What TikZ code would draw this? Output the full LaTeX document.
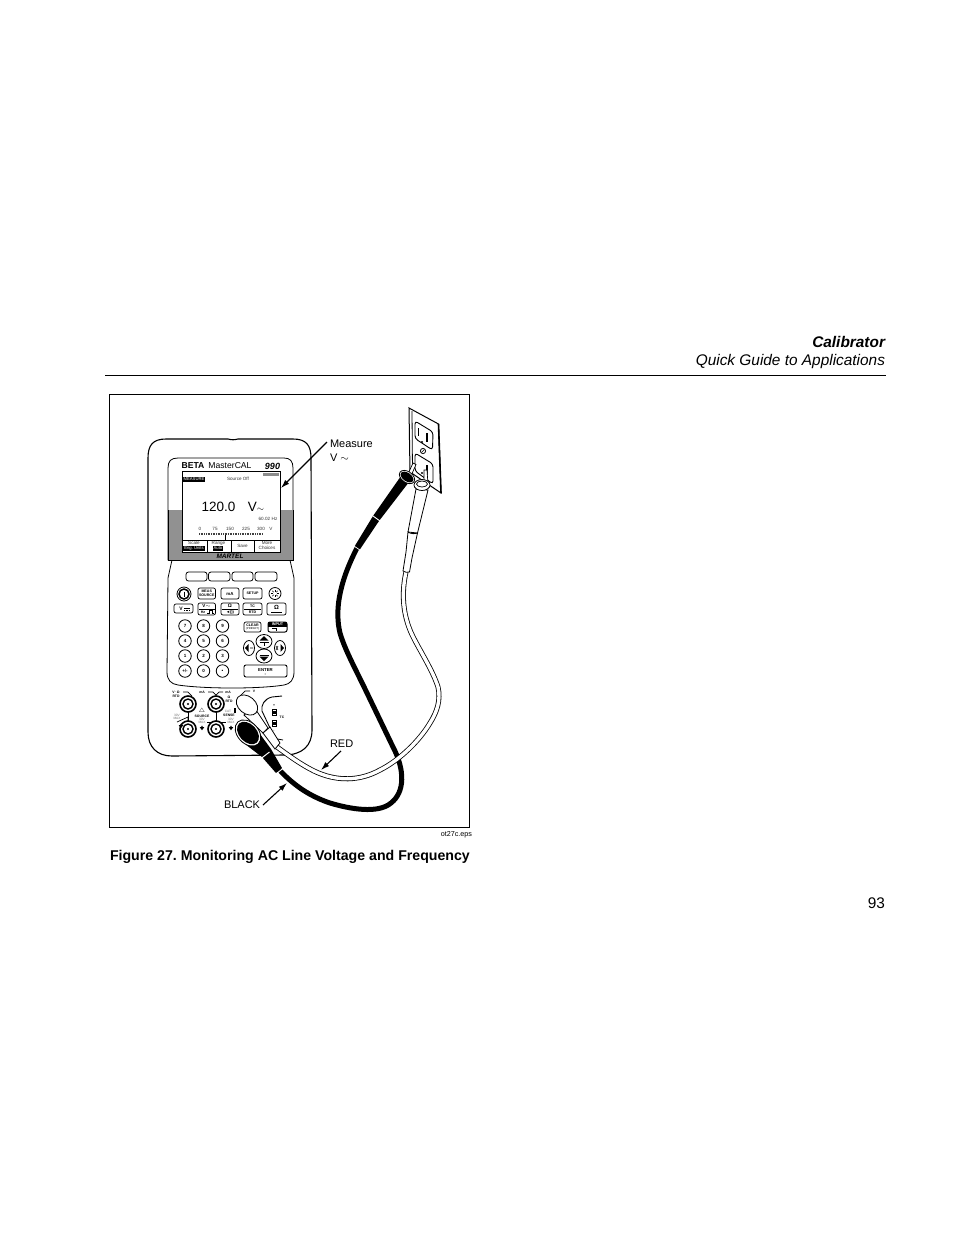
\documentclass[tikz,border=0pt]{standalone}
\usepackage{fontspec}
\setmainfont{Liberation Sans}
\frenchspacing
\newcommand{\fsz}[1]{\fontsize{#1}{#1}\selectfont}
\tikzset{
  every node/.style={inner sep=0pt,outer sep=0pt},
  keybox/.style={draw,line width=0.7pt,rounded corners=2pt,fill=white},
  softkey/.style={draw,line width=0.8pt,rounded corners=2.5pt,fill=white},
  numkey/.style={draw,line width=0.8pt,fill=white,circle,minimum size=12.5pt,font=\fsz{4.5}\bfseries},
  keytxt/.style={font=\fsz{3.6}\bfseries,align=center},
  tiny/.style={font=\fsz{3.4}\bfseries,align=center},
  faint/.style={font=\fsz{3.2},align=center,text=black!55},
  scr/.style={font=\fsz{4.6},align=center,text=black!80},
  callout/.style={font=\fsz{11},anchor=base west},
  ptr/.style={line width=1.1pt,-{Latex[length=8.5pt,width=5.5pt]}},
  jack/.style={draw,line width=1.6pt,fill=white},
  cablek/.style={line width=5pt,line join=round},
  cablew/.style={line width=5pt,line join=round},
  cablei/.style={line width=3.4pt,white,line join=round},
}
\usetikzlibrary{arrows.meta}
\begin{document}
\begin{tikzpicture}[x=1pt,y=-1pt]
\useasboundingbox (0,0) rectangle (954,1235);
% page furniture
\node[font=\fsz{15.4}\bfseries\itshape,anchor=base east] (chap) at (885,347) {Calibrator};
\node[font=\fsz{15.4}\itshape,anchor=base east] (sect) at (885,365) {Quick Guide to Applications};
\coordinate (ruleL) at (105,375.5); \coordinate (ruleR) at (886,375.5);
\draw[line width=0.8pt] (ruleL) -- (ruleR);
\draw[line width=0.8pt] (109.5,394.5) rectangle (469.5,827.5);
\node[font=\fsz{7.2},anchor=base east] (eps) at (472,836) {ot27c.eps};
\node[font=\fsz{14.15}\bfseries,anchor=base west] (cap) at (110,860) {Figure 27. Monitoring AC Line Voltage and Frequency};
\node[font=\fsz{15.4},anchor=base east] (pg) at (885,908) {93};
% device body
\draw[line width=1.1pt,fill=white] (148,458) .. controls (148,445) and (153,439) .. (166,439)
  -- (228,439) .. controls (232,440) and (234,440) .. (238,439) -- (293,439)
  .. controls (306,439) and (311,445) .. (311,458) -- (312,730)
  .. controls (312,746) and (302,755) .. (284,755) -- (172,756)
  .. controls (157,756) and (148,747) .. (148,732) -- cycle;
% bezel
\draw[line width=0.8pt,fill=white] (168,468) .. controls (168,461) and (171,458) .. (178,458)
  -- (284,458) .. controls (290,458) and (293,461) .. (293,468) -- (293,560)
  -- (290,560) -- (294,578) -- (294,672) .. controls (294,680) and (290,684) .. (284,685)
  .. controls (260,689) and (205,689) .. (178,685) .. controls (171,684) and (167,680) .. (167,672)
  -- (168,578) -- (172,560) -- (168,560) -- cycle;
\fill[black!43] (168.4,510) rectangle (292.6,560);
\draw[line width=0.8pt] (168,510) -- (168,560) -- (293,560) -- (293,510);
% title
\node[font=\fsz{8.6}\bfseries] (beta) at (193,466) {BETA};
\node[font=\fsz{8.6}] (mcal) at (230,466) {MasterCAL};
\node[font=\fsz{9}\bfseries\itshape] (n990) at (272.5,466) {990};
% screen
\draw[line width=1pt,fill=white] (182,471) rectangle (280,552);
\fill[black] (183,476.5) rectangle (205,482);
\node[font=\fsz{4.2},text=white] (meas) at (194,479.3) {MEASURE};
\fill[black!45] (263,472.5) rectangle (279,476);
\node[scr] (srcoff) at (238,479.3) {Source Off};
\node[font=\fsz{13.5}] (val) at (218.5,507) {120.0};
\node[font=\fsz{13.5}] (unit) at (256,507) {V$\scriptstyle\sim$};
\node[scr] (hz) at (268,519) {60.02\,\,Hz};
\foreach \t/\x in {0/200,75/215,150/230,225/246,300/261,V/271}{\node[scr] at (\x,529) {\t};}
\draw[line width=1.6pt,dash pattern=on 1pt off 0.7pt,black!75] (199,534) -- (263,534);
\draw[line width=0.7pt] (225,535) -- (225,539.5);
\draw[line width=0.8pt] (182,540) -- (280,540) (207,540) -- (207,552) (231,540) -- (231,552) (254,540) -- (254,552);
\node[scr] (skA) at (194,543) {Scale};
\fill[black] (183,545.5) rectangle (205,551);
\node[font=\fsz{4.2},text=white] (skAb) at (194,548.3) {Eng. Units};
\node[scr] (skB) at (218.5,543) {Range};
\fill[black] (213,545.5) rectangle (223,551);
\node[font=\fsz{4.2},text=white] (skBb) at (218,548.3) {Auto};
\node[scr] (skC) at (242.5,546) {Save};
\node[scr] (skD) at (267,543) {More};
\node[scr] (skDb) at (267,548.3) {Choices};
\node[font=\fsz{6.5}\bfseries\itshape] (logo) at (230,556.3) {MARTEL};
% soft keys
\draw[softkey] (186,572) rectangle (207,581);
\draw[softkey] (208.5,572) rectangle (230,581);
\draw[softkey] (232,572) rectangle (253,581);
\draw[softkey] (255,572) rectangle (277,581);
% key row 1
\draw[line width=0.8pt] (184,594) circle (7);
\draw[line width=1.5pt] (184,594) circle (5);
\draw[line width=0.8pt] (184,591.5) -- (184,596.5);
\draw[keybox] (198,588) rectangle (215.5,599);
\node[keytxt] (kmeas) at (206.7,593.5) {MEAS\\[0.4pt]SOURCE};
\draw[keybox] (221,588) rectangle (239,599);
\node[font=\fsz{4.4}\bfseries] (kma) at (230,593.5) {mA};
\draw[keybox] (243,588) rectangle (262,599);
\node[keytxt] (kset) at (252.5,593.5) {SETUP};
\draw[line width=0.8pt] (275,593.5) circle (6);
\foreach \a in {0,45,...,315}{\draw[line width=0.6pt] ([shift={(\a:1.9pt)}]275,593.5) -- ([shift={(\a:3.8pt)}]275,593.5);}
% key row 2
\draw[keybox] (174,604) rectangle (193,613);
\node[font=\fsz{5}\bfseries] (kv) at (181,608.5) {V};
\draw[line width=0.8pt] (184,608) -- (190,608);
\draw[line width=0.6pt,dash pattern=on 1pt off 0.6pt] (184,610) -- (190,610);
\draw[keybox] (198,603) rectangle (215.5,615);
\draw[line width=0.5pt] (199,609) -- (214.5,609);
\node[font=\fsz{4.5}\bfseries] (kvac) at (206.7,606) {V$\sim$};
\node[font=\fsz{3.6}\bfseries] (khz) at (203,612) {Hz};
\draw[line width=0.7pt] (207,613.5) -- (209,613.5) -- (209,610.5) -- (212,610.5) -- (212,613.5) -- (214,613.5);
\draw[keybox] (221,603) rectangle (239,615);
\draw[line width=0.5pt] (222,609) -- (238,609);
\node[font=\fsz{5}\bfseries] (kohm) at (230,606) {Ω};
\node[font=\fsz{4}\bfseries] (kcont) at (230,612) {◄)))};
\draw[keybox] (243,603) rectangle (262,615);
\draw[line width=0.5pt] (244,609) -- (261,609);
\node[keytxt] (ktc) at (252.5,606) {TC};
\node[keytxt] (krtd) at (252.5,612) {RTD};
\draw[keybox] (267,603) rectangle (286,615);
\node[font=\fsz{6}\bfseries] (kgnd) at (276.5,607.5) {Ω};
\draw[line width=0.7pt] (271,612) -- (282,612);
% numeric keys
\foreach \lab/\x/\y in {7/185/626,8/203.5/626,9/222.5/626,4/185/641,5/203.5/641,6/222.5/641,1/185/656,2/203.5/656,3/222.5/656,{+/-}/185/671,0/203.5/671}{
  \node[numkey] at (\x,\y) {\lab};
}
\node[numkey,font=\fsz{8}\bfseries] (kdot) at (222.5,671) {.};
% clear / input / arrows / enter
\draw[keybox] (244,622) rectangle (261,632);
\node[keytxt] (kclr) at (252.5,625.5) {CLEAR};
\node[font=\fsz{2.8}] (kclr2) at (252.5,629) {(PRESET)};
\draw[keybox,line width=1pt] (268,622) rectangle (287,632);
\fill[black] (268,622) rectangle (287,627);
\node[font=\fsz{3.8}\bfseries,text=white] (kinp) at (277.5,624.6) {INPUT};
\draw[line width=0.7pt] (272,628.5) -- (276,628.5) -- (276,631);
\draw[line width=0.8pt,fill=white] (249,648) ellipse (5.5 and 7.5);
\draw[line width=0.8pt,fill=white] (280,648) ellipse (5.5 and 7.5);
\fill (245,648) -- (248.5,644) -- (248.5,652) -- cycle;
\fill (284,648) -- (280.5,644) -- (280.5,652) -- cycle;
\draw[line width=0.6pt] (250,648) -- (253,648) (276,646) -- (278,650) (278,646) -- (276,650);
\draw[line width=0.8pt,fill=white] (264,641.5) ellipse (8 and 7);
\draw[line width=0.8pt,fill=white] (264,656) ellipse (8 and 7);
\fill (264,636) -- (268.5,640.5) -- (259.5,640.5) -- cycle;
\fill (264,661) -- (268.5,656.5) -- (259.5,656.5) -- cycle;
\draw[line width=0.6pt] (259.5,642) -- (268.5,642) (264,642) -- (264,646) (259.5,655) -- (268.5,655);
\draw[keybox,line width=0.9pt] (244,665) rectangle (287,677);
\node[keytxt,font=\fsz{4.3}\bfseries] (kent) at (265.5,670) {ENTER};
\node[font=\fsz{2.8}] (kent2) at (265.5,675) {=};
% jack wires
\draw[line width=0.7pt] (188,704) -- (188,729);
\draw[line width=0.7pt] (216,704) -- (216,729);
\draw[line width=0.7pt] (177,722) -- (188,717) -- (188,722);
\draw[line width=0.7pt] (207,722) -- (226,722);
\draw[line width=0.7pt] (183,692) -- (188,692) -- (192,696);
\draw[line width=0.7pt] (208,692) -- (213,692) -- (216,695) -- (219,692) -- (223,692);
\draw[line width=0.7pt] (241,695) -- (245,691) -- (250,691);
% jacks
\foreach \x/\y in {188/704,216/704,188/729,216/729}{
  \draw[jack] (\x,\y) circle (8);
  \draw[line width=1.4pt,fill=white] (\x,\y) circle (5);
  \fill[black] (\x,\y) circle (1.2);
}
% jack labels
\node[tiny] (jvo) at (176,694) {V$\cdot$Ω\\[0.3pt]RTD};
\node[tiny] (jma) at (202,692) {mA};
\node[tiny] (jmb) at (228,692) {mA};
\node[tiny] (jrtd) at (229,699.5) {Ω\\[0.3pt]RTD};
\node[tiny] (jv) at (254,691) {V};
\node[tiny] (jsrc) at (202,716) {SOURCE};
\node[font=\fsz{6.5}] (jwarn) at (202,710.5) {$\triangle$};
\node[faint] (jcat) at (228,711) {CAT};
\node[tiny] (jsense) at (229,715.5) {SENSE};
\draw[line width=1.4pt] (235,708) -- (235,713);
\node[faint] (j30a) at (177,717) {30V\\[0.2pt]MAX};
\node[faint] (j30b) at (202,721) {30V\\[0.2pt]MAX};
\node[faint] (j30c) at (231,721) {30V\\[0.2pt]MAX};
\foreach \x/\y in {181/726,202/728,231/728}{
  \fill (\x-2.3,\y-1) -- (\x+2.3,\y-1) -- (\x,\y+2.3) -- cycle;
  \fill (\x,\y-2.5) -- (\x-1.3,\y) -- (\x+1.3,\y) -- cycle;
}
% TC bay
\draw[line width=0.9pt] (282,696) -- (272,697) .. controls (264,699) and (261,705) .. (262,711) -- (270,728);
\draw[line width=0.8pt] (272,738) -- (283,740);
\node[tiny] (tcp) at (274,705) {+};
\node[tiny] (tcm) at (274,731) {-};
\node[tiny] (tcl) at (282,717.5) {TC};
\draw[line width=0.8pt,fill=white] (272,709) rectangle (276,715);
\fill (272.5,710.5) rectangle (275.5,713.5);
\draw[line width=0.8pt,fill=white] (272,720.5) rectangle (276,726.5);
\fill (272.5,722) rectangle (275.5,725);
% red lead boot
\draw[line width=0.8pt,fill=white] (244,715) -- (263,733) -- (268,728) -- (254,707) -- cycle;
\draw[line width=0.8pt,fill=white,rotate around={-40:(247,705)}] (247,705) ellipse (12 and 8.5);
% black cable
\draw[cablek] (268,757) .. controls (283,775) and (300,793) .. (330,803)
   .. controls (350,809) and (378,814) .. (391,803)
   .. controls (405,792) and (405,770) .. (393,747) -- (367,693)
   .. controls (355,668) and (345,650) .. (340,633)
   .. controls (335,612) and (338,585) .. (357,548);
% black lead plug
\fill (257,730) -- (271,749) -- (282,768) -- (276,773) -- (262,757) -- (241,741) -- cycle;
\draw[white,line width=1pt] (261,758.5) -- (269.5,752);
\draw[white,line width=0.9pt] (276,774) -- (284,767.5);
\draw[line width=0.8pt,fill=white,rotate around={-47:(248,733)}] (248,733) ellipse (15 and 10.5);
\fill[rotate around={-47:(248,733)}] (248,733) ellipse (13 and 8.8);
% red lead cable
\draw[cablew] (406,572) .. controls (402,590) and (402,610) .. (410,630)
   .. controls (416,645) and (432,668) .. (438,687)
   .. controls (441,700) and (437,712) .. (430,723)
   .. controls (420,740) and (400,760) .. (380,770)
   .. controls (360,781) and (337,782) .. (314,771)
   .. controls (300,764) and (288,755) .. (277,747);
\draw[cablei] (406,572) .. controls (402,590) and (402,610) .. (410,630)
   .. controls (416,645) and (432,668) .. (438,687)
   .. controls (441,700) and (437,712) .. (430,723)
   .. controls (420,740) and (400,760) .. (380,770)
   .. controls (360,781) and (337,782) .. (314,771)
   .. controls (300,764) and (288,755) .. (277,747);
\draw[line width=0.8pt,fill=white] (263,733) -- (270,727) -- (280,743) -- (275,749) -- cycle;
% outlet
\draw[line width=1pt,fill=white] (409,408) -- (438.5,424) -- (441,493) -- (410,472) -- cycle;
\draw[line width=0.8pt] (412,411) -- (412.5,473);
\draw[line width=1.6pt] (438.5,424) -- (441,493);
\draw[line width=0.9pt,rounded corners=3pt] (415,421) -- (433,432) -- (432.5,450) -- (415,438.5) -- cycle;
\draw[line width=1.1pt] (418.5,428) -- (418.5,436) (427,433) -- (427,442);
\fill (422,442) circle (1.1);
\draw[line width=0.8pt] (423,451) circle (2.6);
\draw[line width=0.6pt] (421.5,452.5) -- (424.5,449.5);
\draw[line width=0.9pt,rounded corners=3pt] (415,453) -- (433,464) -- (433,484) -- (415,471) -- cycle;
\draw[line width=1.1pt] (427,465) -- (427,475);
\fill (422,473) circle (1.1);
% black probe
\draw[line width=0.7pt,fill=white] (413,463) -- (416,464.5) -- (411,476) -- (408,474) -- cycle;
\fill (354.5,546.5) -- (373,516) -- (401,476) -- (409,482) -- (379,521) -- (359.5,550) -- cycle;
\draw[white,line width=0.9pt] (373,516) -- (380,521);
\draw[white,line width=0.7pt] (354,546) -- (360,550);
\draw[line width=0.8pt,fill=white,rotate around={-35:(407,477)}] (407,477) ellipse (8.5 and 5.5);
\fill[rotate around={-35:(407,477)}] (407,477) ellipse (7.2 and 4.2);
% red probe
\draw[line width=0.7pt,fill=white] (424,470) -- (427,470) -- (428,484) -- (424,484) -- cycle;
\draw[line width=0.8pt,fill=white] (416,489) -- (428,490) -- (417.5,533) -- (408,532) -- cycle;
\draw[line width=0.8pt,fill=white] (408,532) .. controls (411,534) and (415,534) .. (417.5,533)
   -- (412,558) -- (409.5,572) .. controls (407,573) and (405,572) .. (403,571) -- (406,552) -- cycle;
\draw[line width=0.8pt,fill=white] (422,485) ellipse (8 and 5.5);
\draw[line width=0.7pt] (422,484) ellipse (5.5 and 3);
% callouts
\node[callout] (lmeas) at (330,447) {Measure};
\node[callout] (lv) at (330,461) {V $\sim$};
\node[callout] (lred) at (330,747) {RED};
\node[callout] (lblack) at (224,808) {BLACK};
\coordinate (mFrom) at (327,442); \coordinate (mTo) at (281,488);
\coordinate (rFrom) at (341,751); \coordinate (rTo) at (321,770);
\coordinate (bFrom) at (263,805); \coordinate (bTo) at (287,783);
\draw[ptr] (mFrom) -- (mTo);
\draw[ptr] (rFrom) -- (rTo);
\draw[ptr] (bFrom) -- (bTo);
\end{tikzpicture}
\end{document}
